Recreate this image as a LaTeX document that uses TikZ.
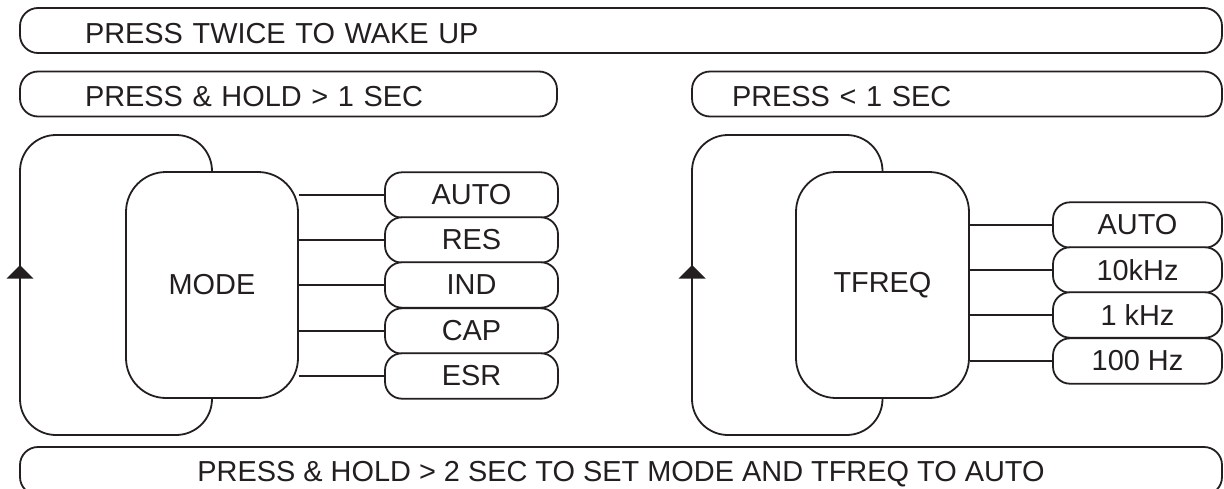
\documentclass[tikz,border=0pt]{standalone}
\usepackage{fontspec}
\setmainfont{Liberation Sans}
\definecolor{ink}{HTML}{231F20}
\begin{document}
\begin{tikzpicture}[x=1pt,y=-1pt,
  every node/.style={font=\fontsize{28.9}{32}\selectfont, text=ink},
  line/.style={draw=ink, line width=1.8pt},
  banner/.style={line, rounded corners=18pt, fill=white, minimum height=45pt,
     align=left, text height=25pt, text depth=0pt},
  bigbox/.style={line, rounded corners=40pt, fill=white, minimum width=172pt, minimum height=226pt},
  optbox/.style={line, rounded corners=17pt, fill=white, minimum height=45.4pt},
  loopline/.style={line, rounded corners=36pt}
]
\useasboundingbox (0,0) rectangle (1224,488);
\clip (0,0) rectangle (1224,488);

% banners
\node[banner, inner xsep=65pt, text width=1072pt] (wake) at (621,30.5) {PRESS TWICE TO WAKE UP};
\node[banner, inner xsep=65pt, text width=407pt] (hold) at (288.5,94) {PRESS \& HOLD > 1 SEC};
\node[banner, inner xsep=40pt, text width=450pt] (short) at (957,94) {PRESS < 1 SEC};
\node[line, rounded corners=18pt, fill=white, minimum width=1202pt, minimum height=48pt, text height=21pt, text depth=0pt] (reset) at (621,471)
  {PRESS \& HOLD > 2 SEC TO SET MODE AND TFREQ TO AUTO};

% main boxes
\node[bigbox] (mode) at (212,285) {MODE};
\node[bigbox, minimum width=173pt] (tfreq) at (882.5,285) {TFREQ};

% loop corners
\coordinate (mlb) at (20,435);
\coordinate (mlt) at (20,135);
\coordinate (tlb) at (692,435);
\coordinate (tlt) at (692,135);

\draw[loopline] (mode.south) -- (mode.south |- mlb) -- (mlb) -- (mlt) -- (mode.north |- mlt) -- (mode.north);
\draw[loopline] (tfreq.south) -- (tfreq.south |- tlb) -- (tlb) -- (tlt) -- (tfreq.north |- tlt) -- (tfreq.north);

% arrowheads on loops
\fill[ink] (20,265) -- (6.5,278.5) -- (33.5,278.5) -- cycle;
\fill[ink] (692,265) -- (678.5,278.5) -- (705.5,278.5) -- cycle;

% mode options
\node[optbox, minimum width=173pt] (mauto) at (471.5,195) {AUTO};
\node[optbox, minimum width=173pt] (mres)  at (471.5,240) {RES};
\node[optbox, minimum width=173pt] (mind)  at (471.5,285) {IND};
\node[optbox, minimum width=173pt] (mcap)  at (471.5,331) {CAP};
\node[optbox, minimum width=173pt] (mesr)  at (471.5,376) {ESR};
\foreach \o in {mauto,mres,mind,mcap,mesr}
  \draw[line] (\o.west -| mode.east) -- (\o.west);

% tfreq options
\node[optbox, minimum width=169pt] (tauto) at (1137.5,225) {AUTO};
\node[optbox, minimum width=169pt] (t10k)  at (1137.5,270) {10kHz};
\node[optbox, minimum width=169pt] (t1k)   at (1137.5,315) {1 kHz};
\node[optbox, minimum width=169pt] (t100)  at (1137.5,361) {100 Hz};
\foreach \o in {tauto,t10k,t1k,t100}
  \draw[line] (\o.west -| tfreq.east) -- (\o.west);
\end{tikzpicture}
\end{document}
